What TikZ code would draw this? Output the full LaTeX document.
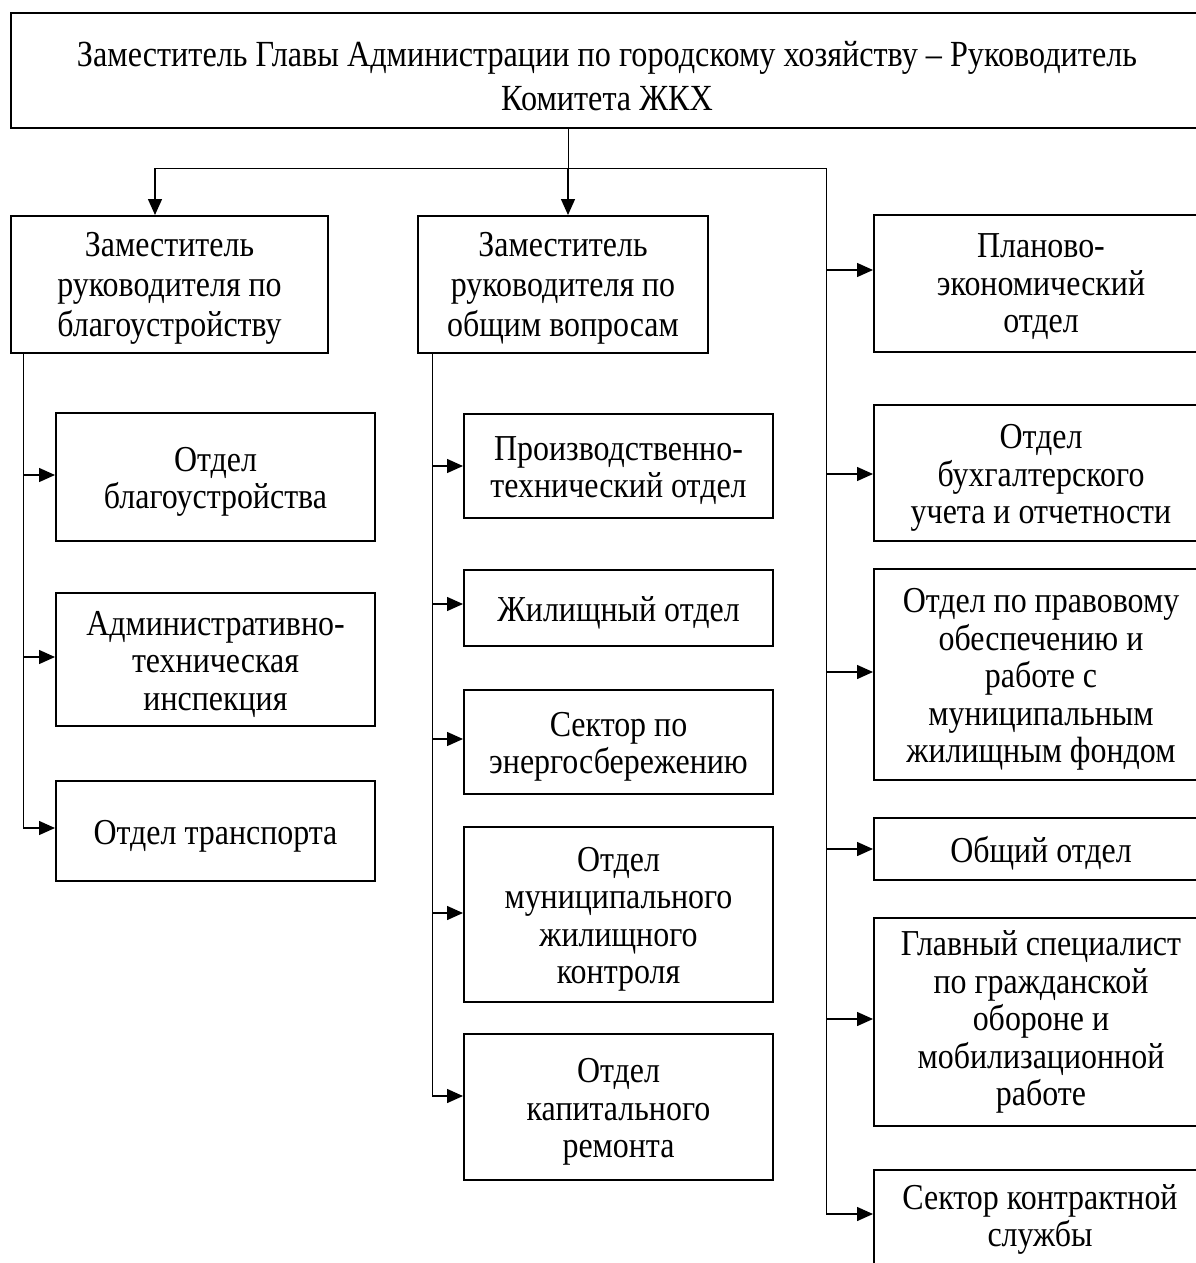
\documentclass[tikz,border=0pt]{standalone}
\usepackage{fontspec}
\setmainfont[FakeStretch=0.875]{Liberation Serif}
\usetikzlibrary{arrows.meta}
\newcommand\tb[2][11pt]{\raisebox{0pt}[\dimexpr\height+#1\relax]{\begin{tabular}{@{}c@{}}#2\end{tabular}}}
\begin{document}
\begin{tikzpicture}[x=1pt,y=-1pt,
  txt/.style={font=\fontsize{36.5}{37.5}\selectfont,inner sep=0pt},
  wide/.style={font=\fontsize{36.8}{44}\selectfont},
  mid/.style={font=\fontsize{36.5}{40}\selectfont},
  box/.style={draw,line width=2pt,anchor=north west,txt},
  wire/.style={line width=1pt},
  arr/.style={line width=1.4pt,-{Triangle[length=16pt,width=14pt]}}]
\useasboundingbox (0,0) rectangle (1196,1263);
\clip (0,0) rectangle (1196,1263);
% top
\node[box,wide,minimum width=1192pt,minimum height=115pt] (top) at (10,12)
  {\tb[19pt]{Заместитель Главы Администрации по городскому хозяйству – Руководитель\\Комитета ЖКХ}};
% deputies
\node[box,mid,minimum width=317pt,minimum height=137pt] (d1) at (10,215)
  {\tb[8pt]{Заместитель\\руководителя по\\благоустройству}};
\node[box,mid,minimum width=290pt,minimum height=137pt] (d2) at (417,215)
  {\tb[8pt]{Заместитель\\руководителя по\\общим вопросам}};
% left column
\node[box,minimum width=319pt,minimum height=128pt] (l1) at (55,412) {\tb{Отдел\\благоустройства}};
\node[box,minimum width=319pt,minimum height=133pt] (l2) at (55,592) {\tb{Административно-\\техническая\\инспекция}};
\node[box,minimum width=319pt,minimum height=100pt] (l3) at (55,780) {\tb{Отдел транспорта}};
% middle column
\node[box,minimum width=309pt,minimum height=104pt] (m1) at (463,413) {\tb{Производственно-\\технический отдел}};
\node[box,minimum width=309pt,minimum height=76pt] (m2) at (463,569) {\tb{Жилищный отдел}};
\node[box,minimum width=309pt,minimum height=104pt] (m3) at (463,689) {\tb{Сектор по\\энергосбережению}};
\node[box,minimum width=309pt,minimum height=175pt] (m4) at (463,826) {\tb{Отдел\\муниципального\\жилищного\\контроля}};
\node[box,minimum width=309pt,minimum height=146pt] (m5) at (463,1033) {\tb{Отдел\\капитального\\ремонта}};
% right column
\node[box,minimum width=334pt,minimum height=137pt] (r1) at (873,214) {\tb[8pt]{Планово-\\экономический\\отдел}};
\node[box,minimum width=334pt,minimum height=136pt] (r2) at (873,404) {\tb{Отдел\\бухгалтерского\\учета и отчетности}};
\node[box,minimum width=334pt,minimum height=211pt] (r3) at (873,568) {\tb{Отдел по правовому\\обеспечению и\\работе с\\муниципальным\\жилищным фондом}};
\node[box,minimum width=334pt,minimum height=62pt] (r4) at (873,817) {\tb{Общий отдел}};
\node[box,minimum width=334pt,minimum height=208pt] (r5) at (873,917) {\tb[2pt]{Главный специалист\\по гражданской\\обороне и\\мобилизационной\\работе}};
\node[box,minimum width=334pt,minimum height=140pt] (r6) at (873,1169) {};
\node[txt] (r6t) at (1040,1215) {\tb{Сектор контрактной\\службы}};
% hub coordinates
\coordinate (h0) at (568,168);
\coordinate (hl) at (155,168);
\coordinate (hr) at (826,168);
\coordinate (vl) at (23,0);
\coordinate (vm) at (432,0);
% connectors from top
\draw[wire] (top.south -| h0) -- (h0);
\draw[wire] (hl) -- (hr);
\draw[arr] (h0) -- (d2.north -| h0);
\draw[arr] (hl) -- (d1.north -| hl);
% left spine
\draw[wire] (d1.south -| vl) -- (vl |- 0,828);
\foreach \n/\y in {l1/475,l2/657,l3/828}
  \draw[arr] (vl |- 0,\y) -- (\n.west |- 0,\y);
% middle spine
\draw[wire] (d2.south -| vm) -- (vm |- 0,1096);
\foreach \n/\y in {m1/466,m2/604,m3/739,m4/913,m5/1096}
  \draw[arr] (vm |- 0,\y) -- (\n.west |- 0,\y);
% right spine
\draw[wire] (hr) -- (hr |- 0,1214);
\foreach \n/\y in {r1/270,r2/474,r3/672,r4/849,r5/1019,r6/1214}
  \draw[arr] (hr |- 0,\y) -- (\n.west |- 0,\y);
\end{tikzpicture}
\end{document}
